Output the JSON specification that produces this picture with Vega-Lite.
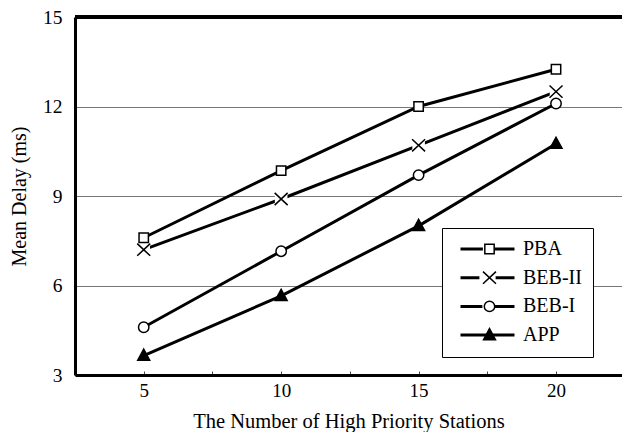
{
  "$schema": "https://vega.github.io/schema/vega-lite/v6.json",
  "autosize": {"type": "none"},
  "padding": {"left": 75, "top": 17, "right": 0, "bottom": 57},
  "width": 547,
  "height": 358,
  "background": "white",
  "config": {
    "view": {"stroke": null},
    "font": "Liberation Serif"
  },
  "data": {
    "values": [
      {"series": "PBA", "x": 5, "y": 7.6},
      {"series": "PBA", "x": 10, "y": 9.85},
      {"series": "PBA", "x": 15, "y": 12.0},
      {"series": "PBA", "x": 20, "y": 13.25},
      {"series": "BEB-II", "x": 5, "y": 7.2},
      {"series": "BEB-II", "x": 10, "y": 8.9},
      {"series": "BEB-II", "x": 15, "y": 10.7},
      {"series": "BEB-II", "x": 20, "y": 12.5},
      {"series": "BEB-I", "x": 5, "y": 4.6},
      {"series": "BEB-I", "x": 10, "y": 7.15},
      {"series": "BEB-I", "x": 15, "y": 9.7},
      {"series": "BEB-I", "x": 20, "y": 12.1},
      {"series": "APP", "x": 5, "y": 3.65},
      {"series": "APP", "x": 10, "y": 5.65},
      {"series": "APP", "x": 15, "y": 8.0},
      {"series": "APP", "x": 20, "y": 10.75}
    ]
  },
  "encoding": {
    "x": {
      "field": "x", "type": "quantitative",
      "scale": {"domain": [2.5, 22.4], "nice": false, "zero": false},
      "axis": {
        "values": [2.5, 5, 7.5, 10, 12.5, 15, 17.5, 20],
        "labelExpr": "datum.value % 5 === 0 ? datum.label : ''",
        "labelOverlap": false,
        "tickSize": -4,
        "tickColor": "#444",
        "tickWidth": 1,
        "domainColor": "black",
        "domainWidth": 3,
        "grid": false,
        "labelFont": "Liberation Serif",
        "labelFontSize": 19,
        "labelColor": "black",
        "labelPadding": 10,
        "title": "The Number of High Priority Stations",
        "titleFont": "Liberation Serif",
        "titleFontSize": 20.5,
        "titleFontWeight": "normal",
        "titleColor": "black",
        "titleBaseline": "alphabetic",
        "titleY": 52
      }
    },
    "y": {
      "field": "y", "type": "quantitative",
      "scale": {"domain": [3, 15], "nice": false, "zero": false},
      "axis": {
        "values": [3, 6, 9, 12, 15],
        "ticks": false,
        "grid": true,
        "gridColor": "#777",
        "gridWidth": 1,
        "domainColor": "black",
        "domainWidth": 3,
        "labelFont": "Liberation Serif",
        "labelFontSize": 19.5,
        "labelColor": "black",
        "labelPadding": 13,
        "title": "Mean Delay (ms)",
        "titleFont": "Liberation Serif",
        "titleFontSize": 20,
        "titleFontWeight": "normal",
        "titleColor": "black",
        "titleAngle": -90,
        "titleAlign": "center",
        "titleBaseline": "alphabetic",
        "titleX": -50,
        "titleY": 179
      }
    }
  },
  "layer": [
    {
      "transform": [{"filter": "datum.x < 0"}],
      "mark": {"type": "point", "filled": false, "color": "black", "strokeWidth": 3, "opacity": 1},
      "encoding": {
        "shape": {
          "field": "series", "type": "nominal",
          "scale": {
            "domain": ["PBA", "BEB-II", "BEB-I", "APP"],
            "range": ["M-1,0H-0.17M0.17,0H1", "M-1,0H-0.3M0.3,0H1", "M-1,0H-0.19M0.19,0H1", "M-1,0H1"]
          },
          "legend": {
            "orient": "none",
            "legendX": 367,
            "legendY": 211,
            "title": null,
            "padding": 11,
            "fillColor": "white",
            "strokeColor": "black",
            "symbolSize": 2916,
            "symbolOffset": 6,
            "symbolStrokeWidth": 3,
            "symbolStrokeColor": "black",
            "symbolFillColor": "transparent",
            "symbolOpacity": 1,
            "clipHeight": 20,
            "rowPadding": 8.7,
            "labelOffset": 7,
            "labelFont": "Liberation Serif",
            "labelFontSize": 20,
            "labelColor": "black"
          }
        }
      }
    },
    {
      "mark": {"type": "rule", "color": "black", "strokeWidth": 2.5},
      "encoding": {"y": {"datum": 15}, "x": {"datum": 2.5}, "x2": {"datum": 22.4}}
    },
    {
      "mark": {"type": "line", "color": "black", "strokeWidth": 3},
      "encoding": {"detail": {"field": "series"}}
    },
    {
      "transform": [{"filter": "datum.series === 'BEB-II'"}],
      "mark": {"type": "point", "shape": "square", "filled": true, "color": "white", "size": 160, "opacity": 1, "strokeWidth": 0}
    },
    {
      "mark": {"type": "point", "strokeWidth": 1.5, "size": 169, "opacity": 1},
      "encoding": {
        "shape": {
          "field": "series", "type": "nominal",
          "scale": {
            "domain": ["PBA", "BEB-II", "BEB-I", "APP"],
            "range": [
              "M-0.72,-0.72H0.72V0.72H-0.72Z",
              "M-1,-0.94L1,0.94M-1,0.94L1,-0.94",
              "M0.8,0A0.8,0.8 0 1,1 -0.8,0A0.8,0.8 0 1,1 0.8,0Z",
              "M0,-1L0.92,0.7L-0.92,0.7Z"
            ]
          },
          "legend": {
            "orient": "none",
            "legendX": 367,
            "legendY": 211,
            "title": null,
            "padding": 11,
            "fillColor": "transparent",
            "strokeColor": "transparent",
            "symbolSize": 169,
            "symbolOffset": 26.5,
            "symbolStrokeWidth": 1.5,
            "symbolOpacity": 1,
            "clipHeight": 20,
            "rowPadding": 8.7,
            "labelOffset": 7,
            "labelExpr": "''",
            "labelFont": "Liberation Serif",
            "labelFontSize": 20,
            "labelColor": "black"
          }
        },
        "fill": {
          "field": "series", "type": "nominal",
          "scale": {
            "domain": ["PBA", "BEB-II", "BEB-I", "APP"],
            "range": ["white", "white", "white", "black"]
          }
        },
        "stroke": {
          "field": "series", "type": "nominal",
          "scale": {
            "domain": ["PBA", "BEB-II", "BEB-I", "APP"],
            "range": ["black", "black", "black", "black"]
          }
        }
      }
    }
  ],
  "resolve": {"scale": {"shape": "independent", "fill": "independent", "stroke": "independent"}}
}
